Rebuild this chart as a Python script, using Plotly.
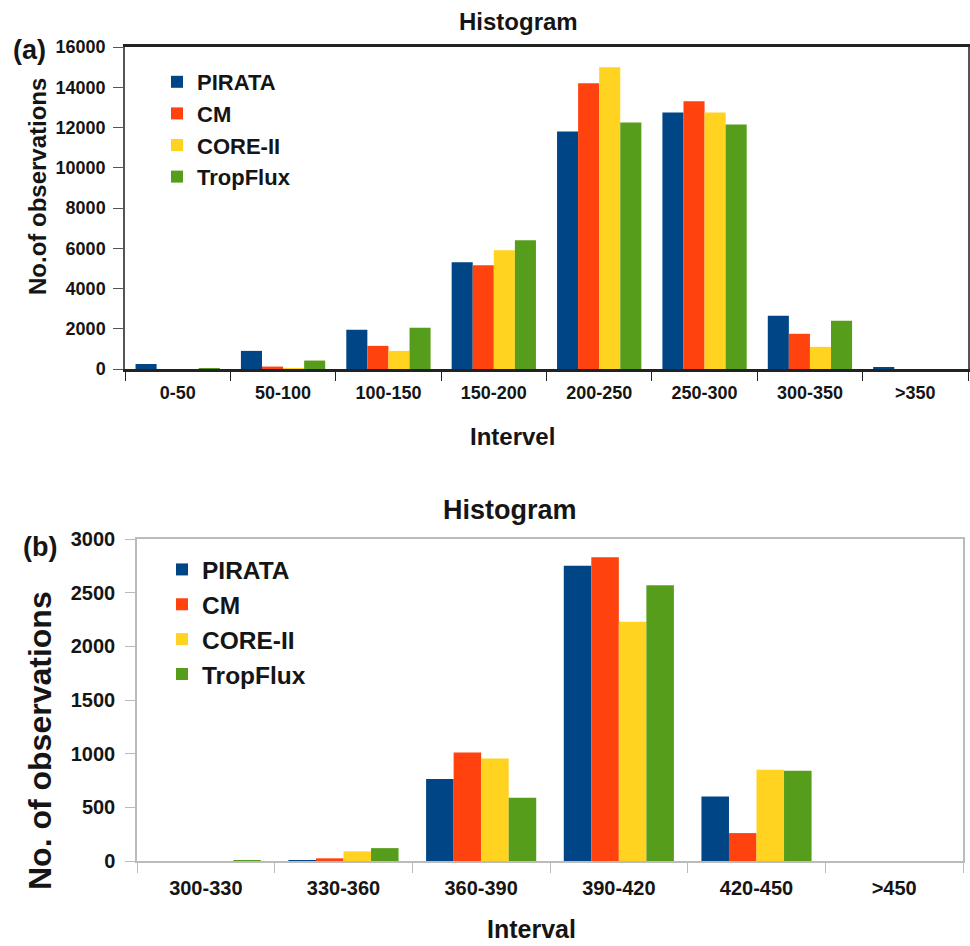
import plotly.graph_objects as go
from plotly.subplots import make_subplots

series = ["PIRATA", "CM", "CORE-II", "TropFlux"]
colors = ["#004586", "#ff420e", "#ffd320", "#579d1c"]

cats_a = ["0-50", "50-100", "100-150", "150-200", "200-250", "250-300", "300-350", ">350"]
pirata_a = [250, 900, 1950, 5300, 11800, 12750, 2650, 80]
cm_a = [0, 120, 1150, 5150, 14200, 13300, 1750, 0]
core_a = [0, 30, 900, 5900, 15000, 12750, 1100, 0]
trop_a = [20, 420, 2050, 6400, 12250, 12150, 2400, 0]

cats_b = ["300-330", "330-360", "360-390", "390-420", "420-450", ">450"]
pirata_b = [0, 5, 765, 2750, 600, 0]
cm_b = [0, 25, 1010, 2830, 260, 0]
core_b = [0, 90, 955, 2230, 850, 0]
trop_b = [3, 120, 590, 2570, 840, 0]

vals_a = [pirata_a, cm_a, core_a, trop_a]
vals_b = [pirata_b, cm_b, core_b, trop_b]

fig = make_subplots(rows=2, cols=1)
FONT = "Liberation Sans"
TXT = "#151515"

for name, col, va, vb in zip(series, colors, vals_a, vals_b):
    fig.add_trace(go.Bar(x=cats_a, y=va, name=name, marker=dict(color=col, line=dict(width=0)),
                         legend="legend"), row=1, col=1)
    fig.add_trace(go.Bar(x=cats_b, y=vb, name=name, marker=dict(color=col, line=dict(width=0)),
                         legend="legend2"), row=2, col=1)

W, H = 970, 946
def px(x): return x / W
def py(y): return 1 - y / H

tf_a = dict(family=FONT, size=18, color=TXT, weight="bold")
tf_b = dict(family=FONT, size=20, color=TXT, weight="bold")
fig.update_layout(
    width=W, height=H, margin=dict(l=0, r=0, t=0, b=0, autoexpand=False),
    paper_bgcolor="white", plot_bgcolor="white",
    barmode="group", bargap=0.2, bargroupgap=0,
    font=dict(family=FONT, color=TXT),
    xaxis=dict(domain=[px(125), px(968)], tickson="boundaries", ticks="outside", ticklen=9,
               tickcolor="#222", linecolor="#222", linewidth=2.5, mirror=True, showgrid=False,
               tickfont=tf_a, anchor="y", ticklabelstandoff=6, automargin=False),
    yaxis=dict(domain=[py(369), py(47)], range=[0, 16000], dtick=2000, tickformat="d",
               ticks="outside", ticklen=10, tickcolor="#555", linecolor="#555", linewidth=1.5,
               mirror=True, showgrid=False, zeroline=False, tickfont=tf_a, anchor="x",
               ticklabelstandoff=4, automargin=False),
    xaxis2=dict(domain=[px(137), px(963)], tickson="boundaries", ticks="outside", ticklen=10,
                tickcolor="#bbb", linecolor="#bbb", linewidth=2, mirror=True, showgrid=False,
                tickfont=tf_b, anchor="y2", ticklabelstandoff=8, automargin=False),
    yaxis2=dict(domain=[py(861), py(539)], range=[0, 3000], dtick=500, tickformat="d",
                ticks="outside", ticklen=10, tickcolor="#bbb", linecolor="#bbb", linewidth=1.5,
                mirror=True, showgrid=False, zeroline=False, tickfont=tf_b, anchor="x2",
                ticklabelstandoff=6, automargin=False),
    legend=dict(x=px(157), y=py(61), xanchor="left", yanchor="top", bgcolor="rgba(0,0,0,0)",
                font=dict(family=FONT, size=22, color=TXT, weight="bold"), tracegroupgap=0,
                itemwidth=30),
    legend2=dict(x=px(162), y=py(547), xanchor="left", yanchor="top", bgcolor="rgba(0,0,0,0)",
                 font=dict(family=FONT, size=24.5, color=TXT, weight="bold"), tracegroupgap=0,
                 itemwidth=30),
    showlegend=True,
)

ann = [
    dict(text="Histogram", x=px(518), y=py(21), size=24),
    dict(text="(a)", x=px(29), y=py(50), size=27),
    dict(text="Intervel", x=px(512), y=py(436), size=24),
    dict(text="Histogram", x=px(510), y=py(510), size=27),
    dict(text="(b)", x=px(40), y=py(547), size=27),
    dict(text="Interval", x=px(531), y=py(929), size=25),
]
for a in ann:
    fig.add_annotation(text=a["text"], x=a["x"], y=a["y"], xref="paper", yref="paper",
                       showarrow=False, xanchor="center", yanchor="middle",
                       font=dict(family=FONT, size=a["size"], color=TXT, weight="bold"))
fig.add_annotation(text="No.of observations", x=px(37), y=py(187), xref="paper", yref="paper",
                   showarrow=False, textangle=-90, xanchor="center", yanchor="middle",
                   font=dict(family=FONT, size=24, color=TXT, weight="bold"))
fig.add_annotation(text="No. of observations", x=px(40), y=py(741), xref="paper", yref="paper",
                   showarrow=False, textangle=-90, xanchor="center", yanchor="middle",
                   font=dict(family=FONT, size=32, color=TXT, weight="bold"))

fig.write_html("out.html", config={"displayModeBar": False},
               post_script="document.body.style.margin='0';document.body.style.overflow='hidden';")
